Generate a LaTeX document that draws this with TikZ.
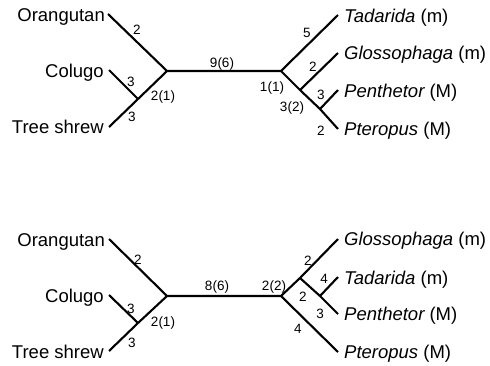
\documentclass[tikz,border=0pt]{standalone}
\usepackage{fontspec}
\setmainfont{Liberation Sans}
\begin{document}
\begin{tikzpicture}[x=1pt,y=-1pt,
  br/.style={line width=2.1pt},
  taxonL/.style={inner sep=0pt, anchor=base east, font=\fontsize{18.5}{22}\selectfont},
  taxonR/.style={inner sep=0pt, anchor=base west, font=\fontsize{18.5}{22}\selectfont},
  blen/.style={inner sep=0pt, anchor=base, font=\fontsize{13.5}{16}\selectfont}]
\useasboundingbox (0,0) rectangle (490,365);
% ---------- top tree ----------
\coordinate (tO) at (108,14);
\coordinate (tL) at (167,71);
\coordinate (tCT) at (138,99);
\coordinate (tC) at (109,70);
\coordinate (tS) at (109,127);
\coordinate (tR) at (281,71);
\coordinate (tTa) at (338,15);
\coordinate (tGP) at (300,90);
\coordinate (tGl) at (338,53);
\coordinate (tPP) at (320,109);
\coordinate (tPe) at (338,90);
\coordinate (tPt) at (338,129);
\draw[br] (tO) -- (tL) -- (tR);
\draw[br] (tC) -- (tCT);
\draw[br] (tS) -- (tCT) -- (tL);
\draw[br] (tTa) -- (tR) -- (tGP) -- (tPP) -- (tPt);
\draw[br] (tGP) -- (tGl);
\draw[br] (tPP) -- (tPe);
\node[taxonL] (nO1) at (105,21) {Orangutan};
\node[taxonL] (nC1) at (104,77) {Colugo};
\node[taxonL] (nS1) at (104,133) {Tree shrew};
\node[taxonR] (nTa1) at (344,22) {\itshape Tadarida\upshape{} (m)};
\node[taxonR] (nGl1) at (344,59) {\itshape Glossophaga\upshape{} (m)};
\node[taxonR] (nPe1) at (344,97) {\itshape Penthetor\upshape{} (M)};
\node[taxonR] (nPt1) at (344,135) {\itshape Pteropus\upshape{} (M)};
\node[blen] (a1) at (137,34) {2};
\node[blen] (a2) at (131,86) {3};
\node[blen] (a3) at (163,100) {2(1)};
\node[blen] (a4) at (132,121) {3};
\node[blen] (a5) at (222,67) {9(6)};
\node[blen] (a6) at (307,37) {5};
\node[blen] (a7) at (313,71) {2};
\node[blen] (a8) at (272,91) {1(1)};
\node[blen] (a9) at (292,111) {3(2)};
\node[blen] (a10) at (321,99) {3};
\node[blen] (a11) at (321,135) {2};
% ---------- bottom tree ----------
\coordinate (bO) at (109,239);
\coordinate (bL) at (167,296);
\coordinate (bCT) at (138,323);
\coordinate (bC) at (109,295);
\coordinate (bS) at (109,351);
\coordinate (bR) at (281,296);
\coordinate (bGT) at (300,278);
\coordinate (bGl) at (338,239);
\coordinate (bTP) at (320,296);
\coordinate (bTa) at (338,277);
\coordinate (bPe) at (338,314);
\coordinate (bPt) at (338,352);
\draw[br] (bO) -- (bL) -- (bR);
\draw[br] (bC) -- (bCT);
\draw[br] (bS) -- (bCT) -- (bL);
\draw[br] (bR) -- (bGT) -- (bGl);
\draw[br] (bGT) -- (bTP) -- (bPe);
\draw[br] (bTP) -- (bTa);
\draw[br] (bR) -- (bPt);
\node[taxonL] (nO2) at (105,246) {Orangutan};
\node[taxonL] (nC2) at (104,302) {Colugo};
\node[taxonL] (nS2) at (104,358) {Tree shrew};
\node[taxonR] (nGl2) at (344,245) {\itshape Glossophaga\upshape{} (m)};
\node[taxonR] (nTa2) at (344,284) {\itshape Tadarida\upshape{} (m)};
\node[taxonR] (nPe2) at (344,320) {\itshape Penthetor\upshape{} (M)};
\node[taxonR] (nPt2) at (344,358) {\itshape Pteropus\upshape{} (M)};
\node[blen] (b1) at (138,264) {2};
\node[blen] (b2) at (131,313) {3};
\node[blen] (b3) at (163,326) {2(1)};
\node[blen] (b4) at (132,347) {3};
\node[blen] (b5) at (217,290) {8(6)};
\node[blen] (b6) at (308,265) {2};
\node[blen] (b7) at (274,290) {2(2)};
\node[blen] (b8) at (324,283) {4};
\node[blen] (b9) at (303,301) {2};
\node[blen] (b10) at (320,318) {3};
\node[blen] (b11) at (298,333) {4};
\end{tikzpicture}
\end{document}
